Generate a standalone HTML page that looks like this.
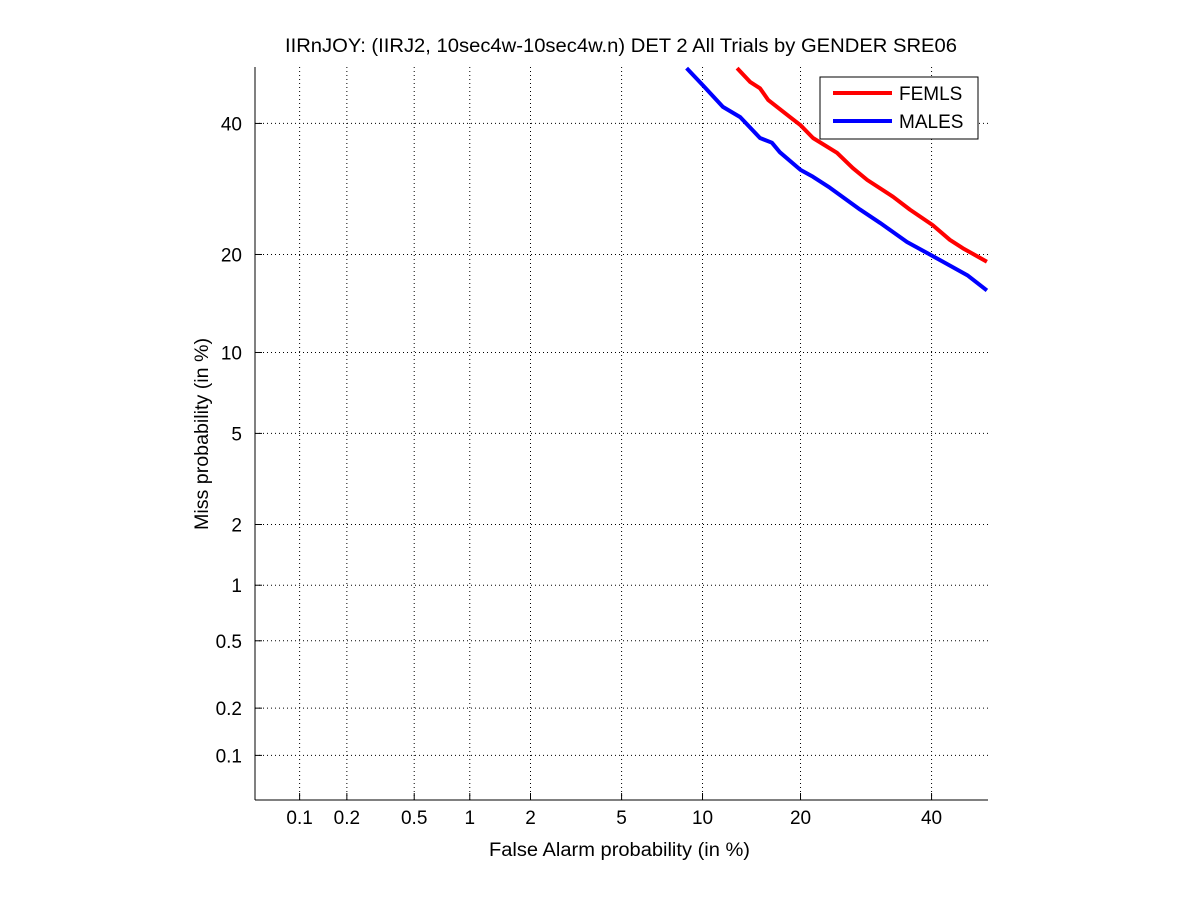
<!DOCTYPE html>
<html><head><meta charset="utf-8"><style>
body{margin:0;background:#fff;}
svg text{font-family:"Liberation Sans",sans-serif;fill:#000;}
</style></head><body>
<svg id="chart" width="1201" height="900" xmlns="http://www.w3.org/2000/svg">
<rect width="1201" height="900" fill="#fff"/>
<text x="285" y="52" font-size="19" textLength="672" lengthAdjust="spacingAndGlyphs">IIRnJOY: (IIRJ2, 10sec4w-10sec4w.n) DET 2 All Trials by GENDER SRE06</text>
<g id="grid"></g>
<line x1="255" y1="67" x2="255" y2="800" stroke="#000" stroke-width="1"/>
<line x1="255" y1="800" x2="988" y2="800" stroke="#000" stroke-width="1"/>
<g id="ticks"></g>
<g id="series"></g>
<text x="489" y="856" font-size="19" textLength="261" lengthAdjust="spacingAndGlyphs">False Alarm probability (in %)</text>
<text transform="translate(208,530) rotate(-90)" font-size="19" textLength="192" lengthAdjust="spacingAndGlyphs">Miss probability (in %)</text>
<g>
<rect x="820" y="77" width="158" height="62" fill="#fff" stroke="#000"/>
<line x1="833" y1="93" x2="892" y2="93" stroke="#f00" stroke-width="4"/>
<text x="899" y="100" font-size="19">FEMLS</text>
<line x1="833" y1="121" x2="892" y2="121" stroke="#00f" stroke-width="4"/>
<text x="899" y="128" font-size="19">MALES</text>
</g>
</svg>
<script>
const tickValues=[0.1,0.2,0.5,1,2,5,10,20,40];
const tickLabels=["0.1","0.2","0.5","1","2","5","10","20","40"];
const femFA=[13.0,14.3,15.3,16.2,18.7,20,21.6,24.9,27.2,29.4,33.5,36.3,40.2,43.2,45.5,49.8];
const femMiss=[49.8,47.3,46.2,44.1,41.1,39.7,37.5,35.0,32.5,30.6,28.0,26.1,23.9,21.9,20.8,19.1];
const maleFA=[8.8,10.0,11.7,13.3,15.3,16.6,17.5,20,21.6,23.9,28.3,31.4,35.8,39.2,42.0,46.3,49.8];
const maleMiss=[49.8,46.8,42.9,41.1,37.5,36.7,35.1,32.2,31.1,29.4,26.1,24.2,21.6,20.2,19.1,17.5,15.8];

function probit(p){
  const a=[-39.69683028665376,220.9460984245205,-275.9285104469687,138.3577518672690,-30.66479806614716,2.506628277459239];
  const b=[-54.47609879822406,161.5858368580409,-155.6989798598866,66.80131188771972,-13.28068155288572];
  const c=[-0.007784894002430293,-0.3223964580411365,-2.400758277161838,-2.549732539343734,4.374664141464968,2.938163982698783];
  const d=[0.007784695709041462,0.3224671290700398,2.445134137142996,3.754408661907416];
  let q,r;
  if(p<0.02425){q=Math.sqrt(-2*Math.log(p));return (((((c[0]*q+c[1])*q+c[2])*q+c[3])*q+c[4])*q+c[5])/((((d[0]*q+d[1])*q+d[2])*q+d[3])*q+1);}
  if(p>1-0.02425){q=Math.sqrt(-2*Math.log(1-p));return -(((((c[0]*q+c[1])*q+c[2])*q+c[3])*q+c[4])*q+c[5])/((((d[0]*q+d[1])*q+d[2])*q+d[3])*q+1);}
  q=p-0.5;r=q*q;
  return (((((a[0]*r+a[1])*r+a[2])*r+a[3])*r+a[4])*r+a[5])*q/(((((b[0]*r+b[1])*r+b[2])*r+b[3])*r+b[4])*r+1);
}
const L=255,T=67,S=733;
const pmin=probit(0.0005),pmax=probit(0.5);
function xs(v){return L+(probit(v/100)-pmin)/(pmax-pmin)*S;}
function ys(v){return T+S-(probit(v/100)-pmin)/(pmax-pmin)*S;}
const NS="http://www.w3.org/2000/svg";
const grid=document.getElementById('grid'),ticks=document.getElementById('ticks'),series=document.getElementById('series');
function mk(tag,attrs,parent){const e=document.createElementNS(NS,tag);for(const k in attrs)e.setAttribute(k,attrs[k]);parent.appendChild(e);return e;}
tickValues.forEach((v,i)=>{
  const x=xs(v),y=ys(v);
  const gx=mk('line',{x1:x,y1:T,x2:x,y2:T+S,stroke:'#000','stroke-dasharray':'1,3'},grid);
  
  
  const gy=mk('line',{x1:L,y1:y,x2:L+S,y2:y,stroke:'#000','stroke-dasharray':'1,3'},grid);
  
  
  mk('line',{x1:x,y1:T+S,x2:x,y2:T+S-7,stroke:'#000'},ticks);
  mk('line',{x1:L,y1:y,x2:L+7,y2:y,stroke:'#000'},ticks);
  const tx=mk('text',{x:x,y:T+S+24,'font-size':19,'text-anchor':'middle'},ticks);
  tx.textContent=tickLabels[i];
  
  
  const ty=mk('text',{x:L-13,y:y+7,'font-size':19,'text-anchor':'end'},ticks);
  ty.textContent=tickLabels[i];
  
  
});
function line(fa,miss,color,name){
  const pts=fa.map((v,i)=>xs(v).toFixed(1)+','+ys(miss[i]).toFixed(1)).join(' ');
  const p=mk('polyline',{points:pts,fill:'none',stroke:color,'stroke-width':4,'stroke-linejoin':'round'},series);
  
  
}
line(femFA,femMiss,'#f00','femls-line');
line(maleFA,maleMiss,'#00f','males-line');
</script>
</body></html>
